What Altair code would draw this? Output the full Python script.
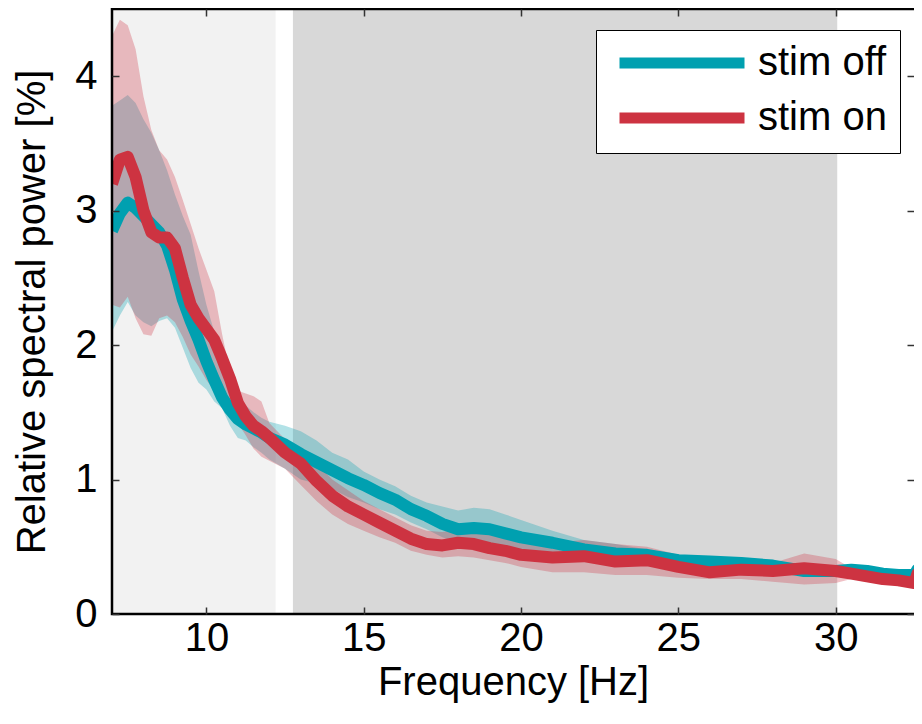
import altair as alt
import pandas as pd

# ---------------- data ----------------
freq = [7.0, 7.25, 7.5, 7.75, 8.0, 8.25, 8.5, 8.75, 9.0, 9.25, 9.5, 9.75,
        10.0, 10.25, 10.5, 10.75, 11.0, 11.25, 11.5, 11.75, 12.0, 12.5, 13.0,
        13.5, 14.0, 14.5, 15.0, 15.5, 16.0, 16.5, 17.0, 17.5, 18.0, 18.5,
        19.0, 19.5, 20.0, 21.0, 22.0, 23.0, 24.0, 25.0, 26.0, 27.0, 28.0,
        29.0, 30.0, 30.5, 31.0, 31.5, 32.0, 32.5, 32.6, 32.75, 32.9]

off_mean = [2.85, 2.98, 3.06, 3.02, 2.96, 2.90, 2.84, 2.74, 2.56, 2.34, 2.18, 2.04,
            1.88, 1.74, 1.61, 1.52, 1.45, 1.41, 1.38, 1.35, 1.31, 1.26, 1.19,
            1.13, 1.07, 1.01, 0.96, 0.90, 0.85, 0.78, 0.73, 0.67, 0.63, 0.64,
            0.63, 0.60, 0.57, 0.53, 0.48, 0.45, 0.44, 0.40, 0.39, 0.38, 0.36,
            0.32, 0.32, 0.33, 0.32, 0.30, 0.29, 0.29, 0.33, 0.35, 0.33]
off_hi = [3.78, 3.82, 3.86, 3.80, 3.68, 3.58, 3.45, 3.30, 3.12, 2.96, 2.82, 2.55,
          2.30, 2.10, 1.92, 1.75, 1.62, 1.55, 1.50, 1.46, 1.43, 1.40, 1.36,
          1.29, 1.20, 1.15, 1.06, 1.00, 0.95, 0.88, 0.83, 0.80, 0.77, 0.79,
          0.78, 0.74, 0.70, 0.62, 0.55, 0.52, 0.48, 0.43, 0.42, 0.41, 0.39,
          0.35, 0.35, 0.36, 0.34, 0.32, 0.31, 0.31, 0.35, 0.37, 0.35]
off_lo = [2.10, 2.22, 2.32, 2.22, 2.17, 2.14, 2.18, 2.20, 2.13, 1.98, 1.83, 1.72,
          1.67, 1.58, 1.53, 1.40, 1.31, 1.29, 1.24, 1.20, 1.15, 1.08, 1.00,
          0.97, 0.93, 0.87, 0.83, 0.78, 0.74, 0.68, 0.63, 0.57, 0.53, 0.52,
          0.51, 0.49, 0.47, 0.44, 0.41, 0.39, 0.39, 0.37, 0.36, 0.35, 0.33,
          0.29, 0.29, 0.30, 0.30, 0.28, 0.27, 0.27, 0.30, 0.33, 0.31]

on_mean = [3.20, 3.38, 3.40, 3.25, 3.00, 2.84, 2.80, 2.80, 2.72, 2.50, 2.30, 2.20,
           2.12, 2.04, 1.90, 1.75, 1.57, 1.47, 1.40, 1.36, 1.31, 1.20, 1.12,
           0.99, 0.88, 0.80, 0.74, 0.68, 0.62, 0.56, 0.52, 0.51, 0.53, 0.52,
           0.49, 0.47, 0.44, 0.42, 0.43, 0.39, 0.40, 0.35, 0.31, 0.33, 0.32,
           0.34, 0.32, 0.30, 0.28, 0.26, 0.25, 0.23, 0.30, 0.13, 0.10]
on_hi = [4.30, 4.42, 4.38, 4.20, 3.85, 3.60, 3.45, 3.38, 3.25, 3.08, 2.90, 2.72,
         2.56, 2.40, 2.08, 1.80, 1.66, 1.64, 1.62, 1.58, 1.42, 1.30, 1.22,
         1.12, 1.00, 0.92, 0.84, 0.78, 0.72, 0.66, 0.62, 0.61, 0.63, 0.62,
         0.59, 0.57, 0.54, 0.53, 0.55, 0.52, 0.50, 0.44, 0.40, 0.40, 0.38,
         0.45, 0.41, 0.34, 0.31, 0.28, 0.27, 0.25, 0.32, 0.15, 0.12]
on_lo = [2.30, 2.28, 2.36, 2.20, 2.08, 2.07, 2.20, 2.22, 2.17, 2.06, 1.93, 1.84,
         1.74, 1.66, 1.62, 1.52, 1.42, 1.33, 1.23, 1.17, 1.14, 1.08, 0.96,
         0.84, 0.74, 0.67, 0.62, 0.57, 0.53, 0.47, 0.44, 0.42, 0.43, 0.42,
         0.40, 0.38, 0.35, 0.31, 0.31, 0.29, 0.29, 0.27, 0.26, 0.26, 0.24,
         0.22, 0.23, 0.26, 0.25, 0.24, 0.23, 0.21, 0.28, 0.11, 0.08]

conditions = ["stim off", "stim on"]
line_colors = ["#00A0B0", "#CD3341"]

region_start = [7.0, 12.75]
region_end = [12.2, 30.05]
region_fill = ["#f2f2f2", "#d8d8d8"]

x_domain = [7, 32.49]      # visible part of the 7-33 Hz axis
frame_x = [7, 33]          # full axis box (right edge lies beyond the picture)
y_domain = [0, 4.5]
x_ticks = [10, 15, 20, 25, 30]
y_ticks = [0, 1, 2, 3, 4]

# ---------------- tables ----------------
series = {"stim off": (off_mean, off_lo, off_hi), "stim on": (on_mean, on_lo, on_hi)}
rows = []
for cond, col in zip(conditions, line_colors):
    m, lo, hi = series[cond]
    for i, f in enumerate(freq):
        rows.append({"freq": f, "cond": cond, "band_color": col,
                     "mean": m[i], "lo": lo[i], "hi": hi[i]})
df = pd.DataFrame(rows)

regions = pd.DataFrame({"start": region_start, "end": region_end, "fill": region_fill})
frame = pd.DataFrame({"x0": [frame_x[0]], "x1": [frame_x[1]],
                      "y0": [y_domain[0]], "y1": [y_domain[1]]})

FONT = "Liberation Sans"
W, H = 802, 605

xs = alt.Scale(domain=x_domain, nice=False, zero=False)
ys = alt.Scale(domain=y_domain, nice=False, zero=False)

common_axis = dict(domain=False, grid=False, ticks=True, tickSize=7, tickColor="#333333",
                   tickWidth=1.5, offset=-7, labelFont=FONT, labelFontSize=40,
                   labelColor="black", titleFont=FONT, titleFontSize=40,
                   titleFontWeight="normal", titleColor="black", zindex=1)

ax_bottom = alt.Axis(values=x_ticks, orient="bottom", title="Frequency [Hz]",
                     labelBaseline="alphabetic", labelPadding=36,
                     titleBaseline="alphabetic", titleY=87, **common_axis)
ax_left = alt.Axis(values=y_ticks, orient="left", title="Relative spectral power [%]",
                   labelPadding=15, titlePadding=22, **common_axis)
ax_top = alt.Axis(values=x_ticks, orient="top", title=None, labels=False, **common_axis)
ax_right = alt.Axis(values=y_ticks, orient="right", title=None, labels=False, **common_axis)

X = lambda field: alt.X(field, type="quantitative", scale=xs, axis=ax_bottom)
Y = lambda field: alt.Y(field, type="quantitative", scale=ys, axis=ax_left)

bg = alt.Chart(regions).mark_rect().encode(
    x=X("start"), x2="end",
    fill=alt.Fill("fill:N", scale=None),
)

bands = alt.Chart(df).mark_area(opacity=0.3, clip=True).encode(
    x=X("freq"), y=Y("lo"), y2="hi",
    fill=alt.Fill("band_color:N", scale=None),
    detail="cond:N",
)

legend = alt.Legend(title=None, orient="none", legendX=484, legendY=21,
                    symbolType="M-5,0H5", symbolSize=625, symbolStrokeWidth=11,
                    symbolOffset=53, labelOffset=56, labelLimit=300,
                    labelFont=FONT, labelFontSize=40, labelColor="black",
                    padding=13, rowPadding=11, strokeColor="black", fillColor="white")

lines = alt.Chart(df).mark_line(strokeWidth=12, clip=True, strokeCap="butt", strokeJoin="round").encode(
    x=X("freq"), y=Y("mean"),
    color=alt.Color("cond:N", scale=alt.Scale(domain=conditions, range=line_colors), legend=legend),
)

box = alt.Chart(frame).mark_rect(filled=False, stroke="black", strokeWidth=2.5).encode(
    x=X("x0"), x2="x1", y=Y("y0"), y2="y1",
)

main = alt.layer(bg, bands, lines, box)

mirror = alt.Chart(frame).mark_point(opacity=0).encode(
    x=alt.X("x0:Q", scale=xs, axis=ax_top),
    y=alt.Y("y0:Q", scale=ys, axis=ax_right),
)

chart = alt.layer(main, mirror).resolve_axis(x="independent", y="independent").properties(
    width=W, height=H,
    autosize=alt.AutoSizeParams(type="none"),
    padding={"left": 104, "top": 1, "right": 0, "bottom": 102},
).configure_view(stroke=None)

chart.save("out.html", embed_options={"renderer": "svg", "actions": False})
